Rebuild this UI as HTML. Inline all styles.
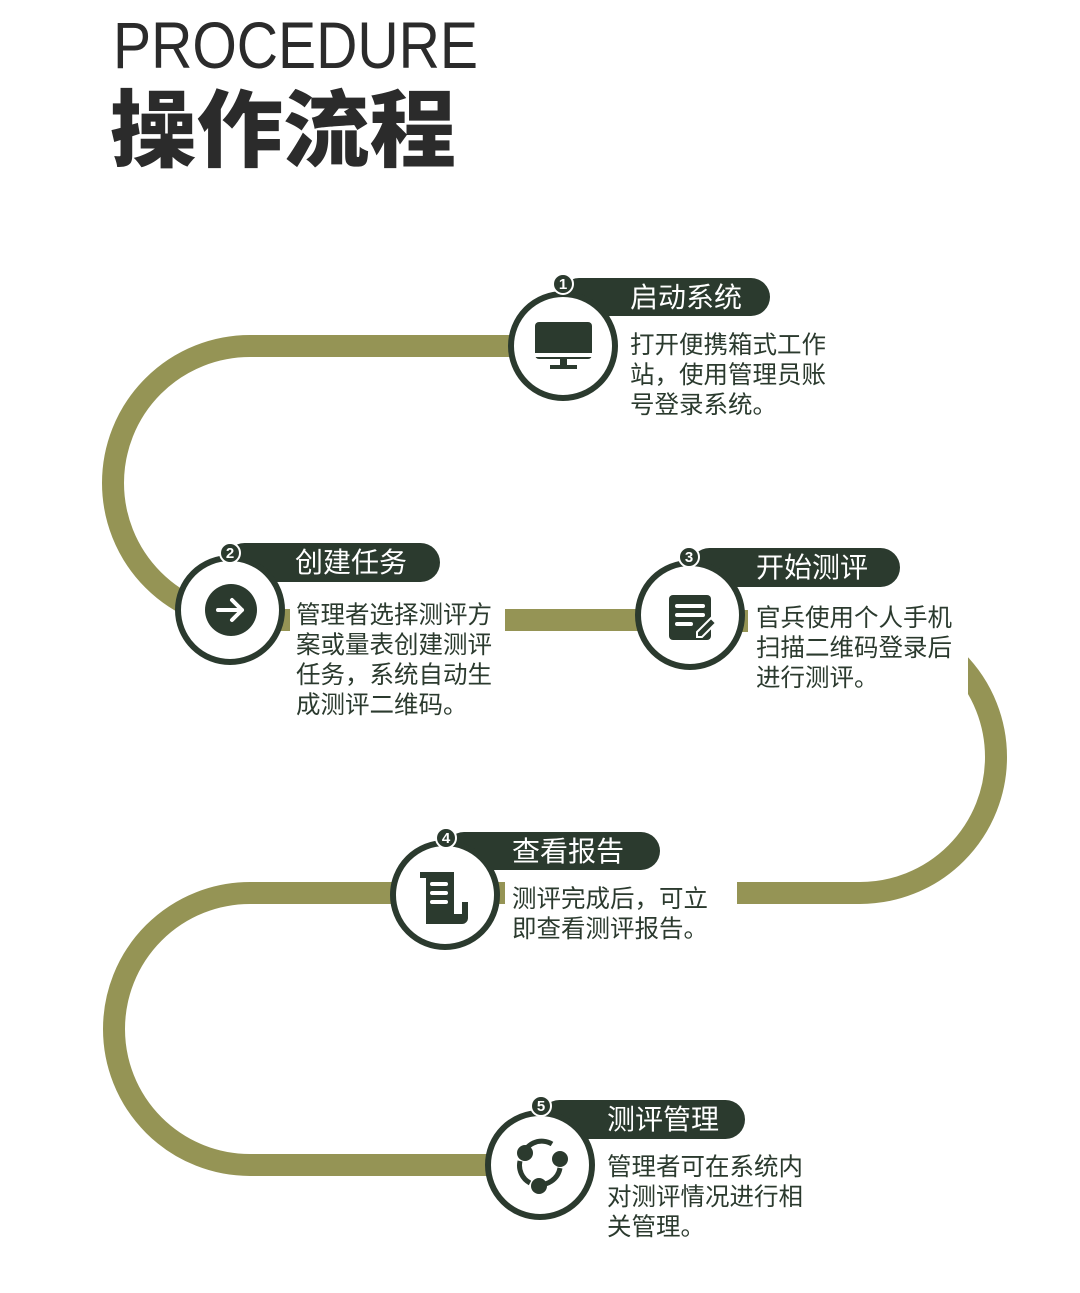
<!DOCTYPE html>
<html><head><meta charset="utf-8"><style>
html,body{margin:0;padding:0;background:#fff}
svg{display:block}
.t{font-family:"Liberation Sans","Noto Sans CJK SC",sans-serif}
.d{font-family:"Liberation Sans","Noto Sans CJK SC",sans-serif;font-size:24.5px;fill:#2b3a2e}
.p{font-family:"Liberation Sans","Noto Sans CJK SC",sans-serif;font-size:28px;fill:#fff}
.n{font-family:"Liberation Sans",sans-serif;font-size:15px;fill:#fff;font-weight:bold}
</style></head><body>
<svg width="1080" height="1293" viewBox="0 0 1080 1293">
<text x="113" y="68" class="t" font-size="66" fill="#2b2b2b" textLength="365" lengthAdjust="spacingAndGlyphs">PROCEDURE</text>
<text x="110" y="160" font-family="Noto Sans CJK SC,sans-serif" font-weight="900" font-size="84" fill="#2b2b2b" textLength="346" lengthAdjust="spacingAndGlyphs">操作流程</text>

<g fill="none" stroke="#959455" stroke-width="22">
<path d="M510 346 H250 A137 137 0 0 0 250 620 H690"/>
<path d="M690 621 H860 A136 136 0 0 1 860 893 H250 A136 136 0 0 0 250 1165 H540"/>
</g>
<g fill="#fff">
<rect x="625" y="325" width="215" height="100"/>
<rect x="290" y="592" width="215" height="130"/>
<rect x="748" y="598" width="220" height="100"/>
<rect x="505" y="878" width="232" height="70"/>
<rect x="600" y="1148" width="215" height="100"/>
</g>

<g fill="#2b3a2e">
<rect x="560" y="278" width="210" height="38" rx="19"/>
<rect x="225" y="543" width="215" height="39" rx="19.5"/>
<rect x="690" y="548" width="210" height="39" rx="19.5"/>
<rect x="445" y="832" width="215" height="38" rx="19"/>
<rect x="540" y="1100" width="205" height="39" rx="19.5"/>
</g>
<text x="630" y="307" class="p">启动系统</text>
<text x="295" y="572" class="p">创建任务</text>
<text x="756" y="577" class="p">开始测评</text>
<text x="512" y="861" class="p">查看报告</text>
<text x="607" y="1129" class="p">测评管理</text>

<g fill="#fff" stroke="#2b3a2e" stroke-width="6">
<circle cx="563" cy="346" r="52"/>
<circle cx="230" cy="610" r="52"/>
<circle cx="690" cy="615" r="52"/>
<circle cx="445" cy="895" r="52"/>
<circle cx="540" cy="1165" r="52"/>
</g>
<g fill="#2b3a2e" stroke="#fff" stroke-width="2">
<circle cx="563" cy="284" r="10"/>
<circle cx="230" cy="553" r="10"/>
<circle cx="689" cy="557" r="10"/>
<circle cx="446" cy="838" r="10"/>
<circle cx="541" cy="1106" r="10"/>
</g>
<text x="563" y="289" class="n" text-anchor="middle">1</text>
<text x="230" y="558" class="n" text-anchor="middle">2</text>
<text x="689" y="562" class="n" text-anchor="middle">3</text>
<text x="446" y="843" class="n" text-anchor="middle">4</text>
<text x="541" y="1111" class="n" text-anchor="middle">5</text>

<g fill="#2b3a2e">
<rect x="535" y="322" width="57" height="37" rx="4"/>
<rect x="535" y="353" width="57" height="4" fill="#fff"/>
<rect x="560" y="359" width="7" height="8"/>
<rect x="550" y="365" width="27" height="4"/>
<circle cx="231" cy="610" r="26"/>
<rect x="669" y="595" width="42" height="45" rx="4"/>
<path d="M420 872 h34 v42 h8 v-12 h6 v16 a6 6 0 0 1 -6 6 h-36 v-46 h-6z"/>
</g>
<g stroke="#fff" stroke-width="4" fill="none" stroke-linecap="round" stroke-linejoin="round">
<path d="M218 610 h24 M232 600 l10 10 l-10 10"/>
<path d="M677 606 h26 M677 615 h26 M677 624 h14"/>
<path d="M432 884 h14 M432 893 h14 M432 902 h14"/>
</g>
<path d="M697 632 l14 -14 l5 5 l-14 14 h-5z" fill="#2b3a2e" stroke="#fff" stroke-width="2"/>
<g>
<path d="M522 1158 a20 20 0 0 1 30 -14 M560 1168 a20 20 0 0 1 -24 16 M530 1183 a20 20 0 0 1 -10 -22" fill="none" stroke="#2b3a2e" stroke-width="5"/>
<circle cx="525" cy="1153" r="8" fill="#2b3a2e"/>
<circle cx="560" cy="1159" r="8" fill="#2b3a2e"/>
<circle cx="539" cy="1186" r="8" fill="#2b3a2e"/>
</g>

<text class="d"><tspan x="630" y="353">打开便携箱式工作</tspan><tspan x="630" y="383">站，使用管理员账</tspan><tspan x="630" y="413">号登录系统。</tspan></text>
<text class="d"><tspan x="296" y="623">管理者选择测评方</tspan><tspan x="296" y="653">案或量表创建测评</tspan><tspan x="296" y="683">任务，系统自动生</tspan><tspan x="296" y="713">成测评二维码。</tspan></text>
<text class="d"><tspan x="756" y="626">官兵使用个人手机</tspan><tspan x="756" y="656">扫描二维码登录后</tspan><tspan x="756" y="686">进行测评。</tspan></text>
<text class="d"><tspan x="512" y="907">测评完成后，可立</tspan><tspan x="512" y="937">即查看测评报告。</tspan></text>
<text class="d"><tspan x="607" y="1175">管理者可在系统内</tspan><tspan x="607" y="1205">对测评情况进行相</tspan><tspan x="607" y="1235">关管理。</tspan></text>
</svg>
</body></html>
